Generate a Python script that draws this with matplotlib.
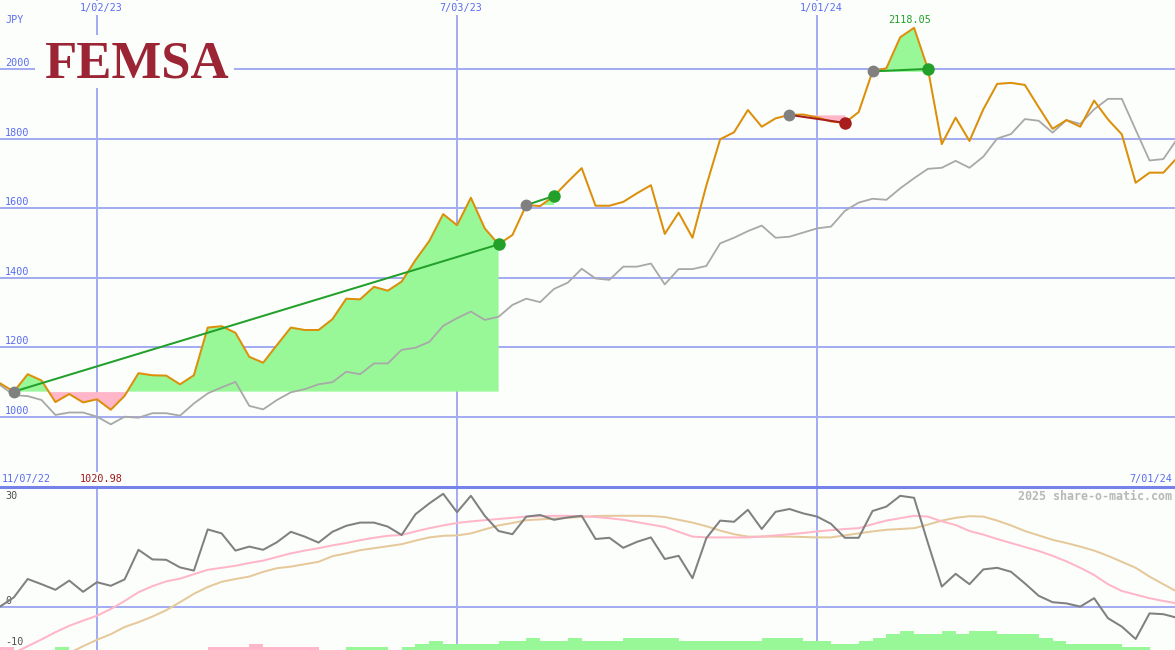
import numpy as np
import matplotlib.pyplot as plt

# weekly closes (JPY), week 0 .. week 85
price = [1097, 1073, 1123, 1105, 1043, 1066, 1042, 1051, 1020.98, 1061,
         1126, 1120, 1119, 1094, 1120, 1257, 1261, 1242, 1173, 1156,
         1207, 1257, 1250, 1250, 1281, 1340, 1338, 1374, 1363, 1389,
         1451, 1506, 1583, 1551, 1630, 1542, 1496, 1523, 1609, 1606,
         1635, 1676, 1715, 1607, 1607, 1618, 1643, 1666, 1526, 1587,
         1515, 1665, 1798, 1818, 1882, 1834, 1858, 1868, 1869, 1861,
         1849, 1845, 1876, 1993, 2002, 2091, 2118.05, 2000, 1784, 1860,
         1793, 1884, 1957, 1960, 1954, 1890, 1828, 1853, 1834, 1909,
         1855, 1812, 1673, 1702, 1702, 1745]

# comparison index, rebased to the stock
index = [1092, 1063, 1060, 1049, 1006, 1013, 1013, 1001, 979, 1001,
         998, 1011, 1011, 1004, 1039, 1068, 1085, 1101, 1032, 1022,
         1049, 1071, 1080, 1094, 1100, 1130, 1123, 1154, 1154, 1193,
         1199, 1216, 1262, 1284, 1303, 1279, 1288, 1322, 1340, 1330,
         1368, 1386, 1426, 1398, 1394, 1432, 1432, 1441, 1381, 1425,
         1425, 1434, 1499, 1515, 1534, 1550, 1515, 1518, 1530, 1542,
         1547, 1592, 1616, 1627, 1624, 1657, 1686, 1713, 1716, 1736,
         1716, 1748, 1800, 1813, 1856, 1851, 1817, 1853, 1842, 1884,
         1914, 1914, 1825, 1737, 1741, 1799]

# lower panel
momentum = [0.1, 2.4, 7.0, 5.7, 4.3, 6.6, 3.8, 6.2, 5.3, 6.9,
            14.3, 11.9, 11.8, 9.9, 9.1, 19.4, 18.4, 14.1, 15.1, 14.3,
            16.2, 18.8, 17.6, 16.1, 18.8, 20.3, 21.1, 21.1, 20.1, 18.0,
            23.2, 25.9, 28.3, 23.7, 27.8, 22.8, 19.0, 18.2, 22.6, 23.0,
            21.8, 22.4, 22.8, 17.0, 17.3, 14.8, 16.3, 17.4, 12.0, 12.8,
            7.2, 17.2, 21.6, 21.3, 24.3, 19.5, 23.8, 24.5, 23.4, 22.6,
            20.8, 17.3, 17.3, 24.0, 25.1, 27.8, 27.3, 16.0, 5.1, 8.3,
            5.7, 9.4, 9.8, 8.8, 5.9, 2.8, 1.2, 0.9, 0.1, 2.2,
            -2.8, -4.9, -8.0, -1.6, -1.8, -2.7]

ma_fast = [-13.3, -11.5, -9.8, -8.1, -6.3, -4.7, -3.4, -2.2, -0.5, 1.5,
           3.7, 5.2, 6.4, 7.1, 8.2, 9.3, 9.8, 10.3, 11.0, 11.6,
           12.5, 13.4, 14.1, 14.7, 15.4, 16.0, 16.7, 17.3, 17.8, 18.0,
           18.9, 19.7, 20.4, 21.0, 21.4, 21.7, 22.0, 22.3, 22.6, 22.7,
           22.8, 22.8, 22.7, 22.5, 22.2, 21.8, 21.2, 20.6, 20.0, 18.8,
           17.6, 17.4, 17.4, 17.4, 17.4, 17.6, 17.9, 18.2, 18.5, 18.9,
           19.2, 19.5, 19.7, 20.7, 21.6, 22.2, 22.8, 22.6, 21.4, 20.5,
           19.0, 18.1, 17.0, 16.0, 15.0, 14.0, 12.8, 11.4, 9.8, 8.0,
           5.7, 4.0, 3.1, 2.2, 1.5, 0.9]

ma_slow = [-19.5, -17.8, -16.2, -14.5, -12.8, -11.5, -9.8, -8.2, -6.8, -5.0,
           -3.8, -2.4, -0.8, 1.2, 3.3, 5.0, 6.3, 7.0, 7.6, 8.8,
           9.7, 10.1, 10.7, 11.3, 12.7, 13.4, 14.2, 14.7, 15.2, 15.7,
           16.6, 17.4, 17.8, 17.9, 18.4, 19.4, 20.4, 21.0, 21.7, 21.9,
           22.1, 22.3, 22.5, 22.75, 22.8, 22.8, 22.8, 22.75, 22.5, 21.8,
           21.1, 20.2, 19.1, 18.2, 17.6, 17.6, 17.6, 17.6, 17.5, 17.4,
           17.4, 17.9, 18.4, 18.9, 19.3, 19.5, 19.7, 20.6, 21.6, 22.3,
           22.7, 22.6, 21.6, 20.4, 19.0, 17.9, 16.8, 16.0, 15.1, 14.1,
           12.8, 11.3, 9.8, 7.6, 5.7, 3.8]

# volume-style bars: sign = colour, size = level
bar_levels = [-1, 0, 0, 0, 1, 0, 0, 0, 0, 0,
              0, 0, 0, 0, 0, -1, -1, -1, -2, -1,
              -1, -1, -1, 0, 0, 1, 1, 1, 0, 1,
              2, 3, 2, 2, 2, 2, 3, 3, 4, 3,
              3, 4, 3, 3, 3, 4, 4, 4, 4, 3,
              3, 3, 3, 3, 3, 4, 4, 4, 3, 3,
              2, 2, 3, 4, 5, 6, 5, 5, 6, 5,
              6, 6, 5, 5, 5, 4, 3, 2, 2, 2,
              2, 1, 1, 0, 0]

trade_entry = [1, 38, 57, 63]
trade_exit = [36, 40, 61, 67]

date_idx = [7, 33, 59]
date_labels = ["1/02/23", "7/03/23", "1/01/24"]
price_ticks = [1000, 1200, 1400, 1600, 1800, 2000]

BG = '#fcfefc'
GRID = '#a4adf2'
BLUE = '#5a6cf0'
GREEN_FILL = '#98f898'
PINK = '#ffb6c8'
MONO = 'DejaVu Sans Mono'
LW2 = 1.45  # 2 px

weeks = np.arange(len(price))
price_a = np.array(price)

fig = plt.figure(figsize=(11.75, 6.5), dpi=100, facecolor=BG)
ax = fig.add_axes([0, 163 / 650, 1, 487 / 650])
ax2 = fig.add_axes([0, 0, 1, 163 / 650])
for a in (ax, ax2):
    a.set_facecolor(BG)
    a.set_xlim(0, 84.84)
    for s in a.spines.values():
        s.set_visible(False)
    a.set_xticks([])
    a.set_yticks([])
    for d in date_idx:
        a.axvline(d, color=GRID, lw=LW2, zorder=0)

ax.set_ylim(799, 2198)
ax2.set_ylim(-10.75, 30)
for v in price_ticks:
    ax.axhline(v, color=GRID, lw=LW2, zorder=0)
ax2.axhline(0, color=GRID, lw=LW2, zorder=0)
ax2.axhline(30, color='#7482ea', lw=2.2, zorder=6, clip_on=False)

# trades
for e, x in zip(trade_entry, trade_exit):
    xs = weeks[e:x + 1]
    ys = price_a[e:x + 1]
    base = price_a[e]
    ax.fill_between(xs, ys, base, where=ys >= base, interpolate=True,
                    color=GREEN_FILL, lw=0, zorder=1)
    ax.fill_between(xs, ys, base, where=ys < base, interpolate=True,
                    color=PINK, lw=0, zorder=1)

ax.plot(weeks, index, color='#a8a8a8', lw=1.3, zorder=2)
ax.plot(weeks, price, color='#dc8f0a', lw=LW2, zorder=3)

for e, x in zip(trade_entry, trade_exit):
    win = price[x] >= price[e]
    col = '#22a02a' if win else '#a81e1e'
    ax.plot([e, x], [price[e], price[x]], color=col, lw=LW2, zorder=4)
    ax.plot(e, price[e], 'o', color='#808080', ms=8.5, mew=0, zorder=5)
    ax.plot(x, price[x], 'o', color=col, ms=9, mew=0, zorder=5)

# lower panel
ax2.bar(weeks[:-1], [abs(b) * 0.78 for b in bar_levels], width=1.0,
        align='edge', bottom=-10.75, lw=0, zorder=1,
        color=[GREEN_FILL if b > 0 else PINK for b in bar_levels])
ax2.plot(weeks, ma_slow, color='#e6c99a', lw=LW2, zorder=2)
ax2.plot(weeks, ma_fast, color='#ffb6c8', lw=LW2, zorder=3)
ax2.plot(weeks, momentum, color='#808080', lw=LW2, zorder=4)

box = dict(facecolor=BG, edgecolor='none', pad=1.5)

# axis texts
for v in price_ticks:
    ax.annotate(str(v), (0, v), xycoords=('axes fraction', 'data'),
                xytext=(5, 3), textcoords='offset pixels', va='baseline',
                ha='left', fontsize=7.3, family=MONO, color=BLUE)
ax.annotate('JPY', (0, 1), xycoords='axes fraction', xytext=(5, -20),
            textcoords='offset pixels', va='center', ha='left',
            fontsize=7.3, family=MONO, color=BLUE)
for d, lab in zip(date_idx, date_labels):
    ax.annotate(lab, (d, 1), xycoords=('data', 'axes fraction'),
                xytext=(4, -8), textcoords='offset pixels', va='center',
                ha='center', fontsize=7.3, family=MONO, color=BLUE, bbox=box)
ax.annotate('11/07/22', (0, 0), xycoords='axes fraction', xytext=(2, 8),
            textcoords='offset pixels', va='center', ha='left',
            fontsize=7.3, family=MONO, color=BLUE, bbox=box)
ax.annotate('7/01/24', (1, 0), xycoords='axes fraction', xytext=(-3, 8),
            textcoords='offset pixels', va='center', ha='right',
            fontsize=7.3, family=MONO, color=BLUE, bbox=box)

imin = int(np.argmin(price_a))
imax = int(np.argmax(price_a))
ax.annotate(f'{price_a[imin]:.2f}', (imin, 0), xycoords=('data', 'axes fraction'),
            xytext=(-10, 8), textcoords='offset pixels', va='center',
            ha='center', fontsize=7.3, family=MONO, color='#a01818', bbox=box)
ax.annotate(f'{price_a[imax]:.2f}', (imax, price_a[imax]),
            xytext=(-4, 8), textcoords='offset pixels', va='center',
            ha='center', fontsize=7.3, family=MONO, color='#22a02a')

for v, lab, dy in [(30, '30', -9), (0, '0', 6), (-10, '-10', 5)]:
    ax2.annotate(lab, (0, v), xycoords=('axes fraction', 'data'),
                 xytext=(5, dy), textcoords='offset pixels', va='center',
                 ha='left', fontsize=7.3, family=MONO, color='#505050')
ax2.annotate('2025 share-o-matic.com', (1, 1), xycoords='axes fraction',
             xytext=(-3, -9), textcoords='offset pixels', va='center',
             ha='right', fontsize=8.4, family=MONO, weight='bold',
             color='#b8b8b8')

# logo
fig.patches.append(plt.Rectangle((35 / 1175, 1 - 88 / 650), 199 / 1175, 53 / 650,
                                 transform=fig.transFigure, facecolor=BG,
                                 edgecolor='none', zorder=1))
fig.text(136 / 1175, 1 - 64 / 650, 'FEMSA', ha='center', va='center',
         fontsize=38, family='Liberation Serif', weight='bold',
         color='#9b2535', zorder=2)

plt.savefig('out.png', dpi=100, facecolor=BG)
